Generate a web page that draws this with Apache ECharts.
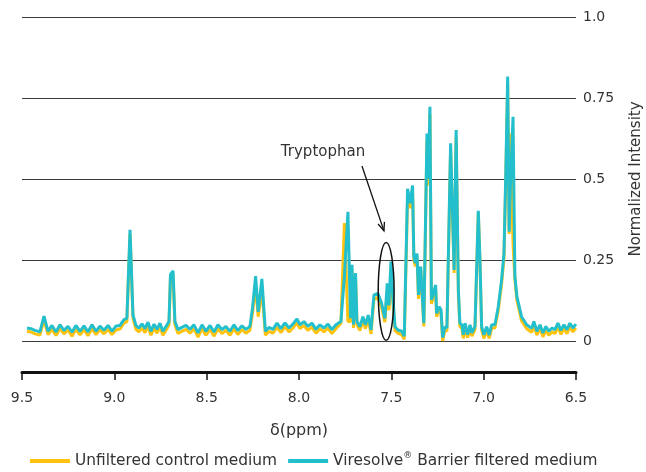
<!DOCTYPE html>
<html>
<head>
<meta charset="utf-8">
<script src="https://cdn.jsdelivr.net/npm/echarts@6/dist/echarts.min.js"></script>
<style>
html,body{margin:0;padding:0;background:#fff;}
#c{width:646px;height:472px;}
</style>
</head>
<body>
<div id="c"></div>
<script>
// chemical shift positions (ppm)
var ppm = [9.473,9.451,9.430,9.403,9.381,9.359,9.338,9.316,9.294,9.273,9.251,9.229,9.208,9.186,9.164,9.143,9.121,9.099,9.078,9.056,9.034,9.013,8.991,8.969,8.948,8.932,8.915,8.899,8.883,8.867,8.850,8.834,8.818,8.802,8.785,8.769,8.753,8.737,8.720,8.704,8.696,8.682,8.672,8.655,8.634,8.612,8.590,8.569,8.547,8.525,8.504,8.482,8.460,8.439,8.417,8.396,8.374,8.352,8.331,8.309,8.287,8.266,8.252,8.235,8.221,8.201,8.182,8.163,8.141,8.119,8.098,8.076,8.054,8.033,8.011,7.995,7.973,7.952,7.930,7.908,7.887,7.865,7.843,7.822,7.800,7.773,7.754,7.735,7.721,7.713,7.705,7.694,7.686,7.670,7.654,7.640,7.625,7.610,7.594,7.573,7.553,7.535,7.522,7.513,7.502,7.491,7.480,7.464,7.444,7.430,7.412,7.398,7.385,7.378,7.370,7.361,7.353,7.341,7.324,7.307,7.299,7.291,7.283,7.273,7.260,7.255,7.241,7.231,7.222,7.210,7.199,7.179,7.160,7.149,7.137,7.129,7.118,7.110,7.101,7.087,7.074,7.064,7.047,7.037,7.029,7.020,7.011,6.999,6.984,6.970,6.957,6.939,6.921,6.903,6.890,6.881,6.870,6.862,6.854,6.841,6.831,6.820,6.795,6.767,6.740,6.728,6.712,6.695,6.679,6.663,6.647,6.630,6.614,6.598,6.582,6.565,6.549,6.533,6.517,6.500];

// Unfiltered control medium (yellow)
var unfiltered = [0.030,0.028,0.022,0.018,0.065,0.020,0.036,0.017,0.038,0.022,0.034,0.015,0.036,0.019,0.035,0.016,0.038,0.020,0.035,0.022,0.036,0.020,0.034,0.037,0.055,0.060,0.330,0.070,0.036,0.028,0.040,0.026,0.046,0.018,0.040,0.024,0.043,0.018,0.033,0.050,0.195,0.205,0.050,0.023,0.030,0.036,0.024,0.038,0.012,0.038,0.018,0.036,0.015,0.038,0.023,0.033,0.018,0.038,0.020,0.035,0.024,0.033,0.085,0.170,0.075,0.160,0.018,0.030,0.024,0.043,0.026,0.044,0.028,0.040,0.056,0.038,0.048,0.033,0.043,0.024,0.038,0.028,0.040,0.023,0.038,0.055,0.364,0.060,0.060,0.220,0.040,0.200,0.050,0.032,0.063,0.038,0.068,0.022,0.130,0.135,0.105,0.058,0.160,0.095,0.210,0.115,0.032,0.024,0.020,0.005,0.440,0.410,0.460,0.250,0.230,0.260,0.130,0.220,0.045,0.620,0.480,0.700,0.115,0.135,0.160,0.075,0.095,0.085,0.000,0.034,0.030,0.590,0.210,0.630,0.145,0.045,0.040,0.008,0.043,0.010,0.040,0.015,0.035,0.040,0.395,0.240,0.034,0.008,0.034,0.008,0.040,0.040,0.095,0.175,0.255,0.480,0.790,0.330,0.640,0.300,0.190,0.125,0.063,0.038,0.027,0.048,0.018,0.038,0.013,0.033,0.018,0.028,0.023,0.043,0.021,0.038,0.023,0.043,0.028,0.040];

// Viresolve® Barrier filtered medium (teal)
var filtered = [0.040,0.038,0.033,0.028,0.077,0.030,0.048,0.028,0.050,0.033,0.045,0.027,0.048,0.030,0.047,0.028,0.050,0.030,0.046,0.033,0.048,0.030,0.046,0.048,0.066,0.070,0.343,0.080,0.048,0.040,0.053,0.038,0.058,0.030,0.052,0.036,0.055,0.030,0.045,0.060,0.204,0.217,0.060,0.035,0.042,0.048,0.036,0.050,0.025,0.050,0.030,0.048,0.028,0.050,0.035,0.045,0.030,0.050,0.032,0.047,0.036,0.045,0.100,0.200,0.090,0.192,0.030,0.042,0.036,0.055,0.038,0.056,0.040,0.052,0.068,0.050,0.060,0.045,0.055,0.036,0.050,0.040,0.052,0.035,0.050,0.060,0.200,0.399,0.070,0.235,0.050,0.210,0.060,0.044,0.075,0.050,0.080,0.034,0.142,0.147,0.117,0.070,0.178,0.110,0.245,0.130,0.044,0.034,0.030,0.015,0.470,0.425,0.480,0.260,0.240,0.270,0.142,0.230,0.055,0.640,0.500,0.723,0.127,0.147,0.173,0.085,0.106,0.096,0.010,0.044,0.040,0.610,0.219,0.651,0.157,0.055,0.050,0.019,0.055,0.020,0.050,0.025,0.045,0.050,0.402,0.250,0.044,0.019,0.044,0.018,0.050,0.050,0.106,0.188,0.270,0.497,0.816,0.337,0.500,0.692,0.200,0.137,0.075,0.050,0.039,0.060,0.030,0.050,0.025,0.045,0.030,0.040,0.035,0.055,0.033,0.050,0.035,0.055,0.040,0.052];

var xTicks = [6.5,7.0,7.5,8.0,8.5,9.0,9.5];
var yTickLabels = {"0":"0","0.25":"0.25","0.5":"0.5","0.75":"0.75","1":"1.0"};

var seriesNames = ["Unfiltered control medium","Viresolve\u00ae Barrier filtered medium"];
var annotationText = "Tryptophan";
// annotation anchors in data units
var ellipseCenter = [7.528, 0.153];
var ellipseHalf = [0.043, 0.151];
var arrowFrom = [7.659, 0.540];
var arrowTo = [7.540, 0.340];
var textAt = [7.870, 0.583];

function pairs(xs, ys){ return xs.map(function(x,i){ return [x, ys[i]]; }); }

var font = "DejaVu Sans, Verdana, sans-serif";
var chart = echarts.init(document.getElementById('c'), null, {renderer:'canvas'});
var option = {
  animation:false,
  backgroundColor:'#ffffff',
  textStyle:{fontFamily:font},
  grid:{left:22,right:70,top:17,bottom:131,containLabel:false,outerBoundsMode:'none'},
  legend:{
    top:451,left:30,padding:0,
    itemWidth:40,itemHeight:4,itemGap:11,
    icon:'rect',
    formatter:function(n){ return n.replace('\u00ae','{sup|\u00ae}'); },
    textStyle:{fontFamily:font,fontSize:15.4,color:'#333',lineHeight:20,
      rich:{sup:{fontFamily:font,fontSize:9,color:'#333',verticalAlign:'top',lineHeight:20}}},
    data:seriesNames
  },
  xAxis:{
    type:'value',inverse:true,min:6.5,max:9.5,interval:0.5,
    position:'bottom',offset:31,
    axisLine:{onZero:false,lineStyle:{color:'#111',width:3}},
    axisTick:{show:true,length:8,inside:false,lineStyle:{color:'#111',width:1.5}},
    axisLabel:{margin:19,fontFamily:font,fontSize:14,color:'#333',formatter:function(v){return v.toFixed(1);}},
    splitLine:{show:false},
    name:'\u03b4(ppm)',nameLocation:'middle',nameGap:51,
    nameTextStyle:{fontFamily:font,fontSize:16,color:'#333'}
  },
  yAxis:{
    type:'value',min:0,max:1,interval:0.25,position:'right',
    axisLine:{show:false},axisTick:{show:false},
    axisLabel:{margin:7,fontFamily:font,fontSize:14,color:'#333',
      formatter:function(v){var k=String(+v.toFixed(2)); return yTickLabels[k]!==undefined?yTickLabels[k]:'';}},
    splitLine:{show:true,lineStyle:{color:'#3c3c3c',width:1}},
    name:'Normalized Intensity',nameLocation:'middle',nameRotate:90,nameGap:53,
    nameTextStyle:{fontFamily:font,fontSize:15,color:'#333'}
  },
  series:[
    {name:seriesNames[0],type:'line',data:pairs(ppm,unfiltered),showSymbol:false,clip:false,
     lineStyle:{color:'#FFC20E',width:3},itemStyle:{color:'#FFC20E'},z:2},
    {name:seriesNames[1],type:'line',data:pairs(ppm,filtered),showSymbol:false,clip:false,
     lineStyle:{color:'#23BFCC',width:3},itemStyle:{color:'#23BFCC'},z:3}
  ]
};
chart.setOption(option);

function px(p){ return chart.convertToPixel({gridIndex:0}, p); }
var c = px(ellipseCenter);
var e1 = px([ellipseCenter[0]-ellipseHalf[0], ellipseCenter[1]+ellipseHalf[1]]);
var rx = Math.abs(e1[0]-c[0]), ry = Math.abs(e1[1]-c[1]);
var a0 = px(arrowFrom), a1 = px(arrowTo), t = px(textAt);
var ang = Math.atan2(a1[1]-a0[1], a1[0]-a0[0]);
var hl = 9, hw = 0.38;
chart.setOption({
  graphic:[
    {type:'ellipse',shape:{cx:c[0],cy:c[1],rx:rx,ry:ry},style:{fill:null,stroke:'#111',lineWidth:1.5},z:10},
    {type:'line',shape:{x1:a0[0],y1:a0[1],x2:a1[0],y2:a1[1]},style:{stroke:'#111',lineWidth:1.3},z:10},
    {type:'polyline',shape:{points:[
      [a1[0]-hl*Math.cos(ang-hw), a1[1]-hl*Math.sin(ang-hw)],
      [a1[0],a1[1]],
      [a1[0]-hl*Math.cos(ang+hw), a1[1]-hl*Math.sin(ang+hw)]
    ]},style:{stroke:'#111',lineWidth:1.3,fill:null},z:10},
    {type:'text',x:t[0],y:t[1],style:{text:annotationText,font:'15px '+font,fill:'#333',align:'center',verticalAlign:'middle'},z:10}
  ]
});
</script>
</body>
</html>
